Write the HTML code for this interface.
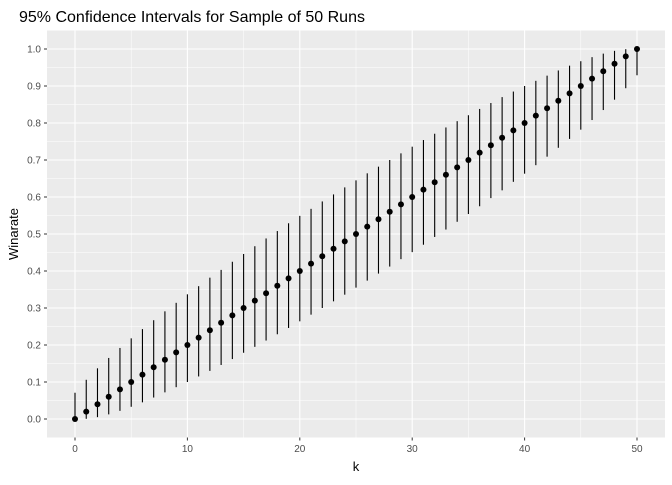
<!DOCTYPE html>
<html><head><meta charset="utf-8"><style>
body{margin:0;background:#fff;font-family:"Liberation Sans",Arial,sans-serif}
svg text{font-family:"Liberation Sans",Arial,sans-serif}
</style></head><body>
<svg id="chart" width="672" height="480">
<text x="19" y="22" font-size="16" fill="#000">95% Confidence Intervals for Sample of 50 Runs</text>
<rect x="47" y="30.5" width="618" height="407" fill="#ebebeb"/>
<g id="grid"></g><g id="bars"></g><g id="pts"></g><g id="axes"></g>
<text x="356" y="471" font-size="13" text-anchor="middle" fill="#000">k</text>
<text transform="translate(18,234) rotate(-90)" font-size="13" text-anchor="middle" fill="#000">Winarate</text>
</svg>
<script>
const ks=[];for(let i=0;i<=50;i++)ks.push(i);
const winrate=[0,0.02,0.04,0.06,0.08,0.10,0.12,0.14,0.16,0.18,0.20,0.22,0.24,0.26,0.28,0.30,0.32,0.34,0.36,0.38,0.40,0.42,0.44,0.46,0.48,0.50,0.52,0.54,0.56,0.58,0.60,0.62,0.64,0.66,0.68,0.70,0.72,0.74,0.76,0.78,0.80,0.82,0.84,0.86,0.88,0.90,0.92,0.94,0.96,0.98,1.0];
const lowerHalf=[0,0.0005,0.005,0.0125,0.022,0.033,0.045,0.058,0.072,0.086,0.100,0.115,0.130,0.146,0.162,0.179,0.195,0.212,0.229,0.246,0.264,0.282,0.300,0.318,0.336,0.355];
const upperHalf=[0.071,0.106,0.137,0.165,0.192,0.218,0.243,0.267,0.291,0.314,0.337,0.359,0.382,0.403,0.425,0.446,0.467,0.488,0.508,0.529,0.549,0.568,0.588,0.607,0.626,0.645];
const lower=[],upper=[];
for(let k=0;k<=50;k++){if(k<=25){lower.push(lowerHalf[k]);upper.push(upperHalf[k]);}else{lower.push(+(1-upperHalf[50-k]).toFixed(4));upper.push(+(1-lowerHalf[50-k]).toFixed(4));}}
const xTicks=[0,10,20,30,40,50];
const yTicks=[0,0.1,0.2,0.3,0.4,0.5,0.6,0.7,0.8,0.9,1.0];
const X=v=>75+v*11.24, Y=v=>419-v*370;
const NS="http://www.w3.org/2000/svg";
function mk(p,t,a){const e=document.createElementNS(NS,t);for(const k in a)e.setAttribute(k,a[k]);p.appendChild(e);return e;}
const g=document.getElementById('grid'),ax=document.getElementById('axes');
for(let i=0;i<yTicks.length-1;i++){const m=(yTicks[i]+yTicks[i+1])/2;const l=mk(g,'line',{x1:47,x2:665,y1:Y(m),y2:Y(m),stroke:'#fff','stroke-width':0.5});

}
for(let i=0;i<xTicks.length-1;i++){const m=(xTicks[i]+xTicks[i+1])/2;const l=mk(g,'line',{x1:X(m),x2:X(m),y1:30.5,y2:437.5,stroke:'#fff','stroke-width':0.5});

}
yTicks.forEach(v=>{const l=mk(g,'line',{x1:47,x2:665,y1:Y(v),y2:Y(v),stroke:'#fff','stroke-width':1.1});


const t=mk(ax,'line',{x1:44,x2:47,y1:Y(v),y2:Y(v),stroke:'#333','stroke-width':1});


const tx=mk(ax,'text',{x:41,y:Y(v)+3.5,'font-size':10,'text-anchor':'end',fill:'#4d4d4d'});tx.textContent=v.toFixed(1);

});
xTicks.forEach(v=>{const l=mk(g,'line',{x1:X(v),x2:X(v),y1:30.5,y2:437.5,stroke:'#fff','stroke-width':1.1});


const t=mk(ax,'line',{x1:X(v),x2:X(v),y1:437.5,y2:440.5,stroke:'#333','stroke-width':1});


const tx=mk(ax,'text',{x:X(v),y:452,'font-size':10,'text-anchor':'middle',fill:'#4d4d4d'});tx.textContent=v;

});
const b=document.getElementById('bars'),p=document.getElementById('pts');
ks.forEach((k,i)=>{const l=mk(b,'line',{x1:X(k),x2:X(k),y1:Y(lower[i]),y2:Y(upper[i]),stroke:'#000','stroke-width':1.1});


const c=mk(p,'circle',{cx:X(k),cy:Y(winrate[i]),r:3,fill:'#000'});

});
</script>
</body></html>
